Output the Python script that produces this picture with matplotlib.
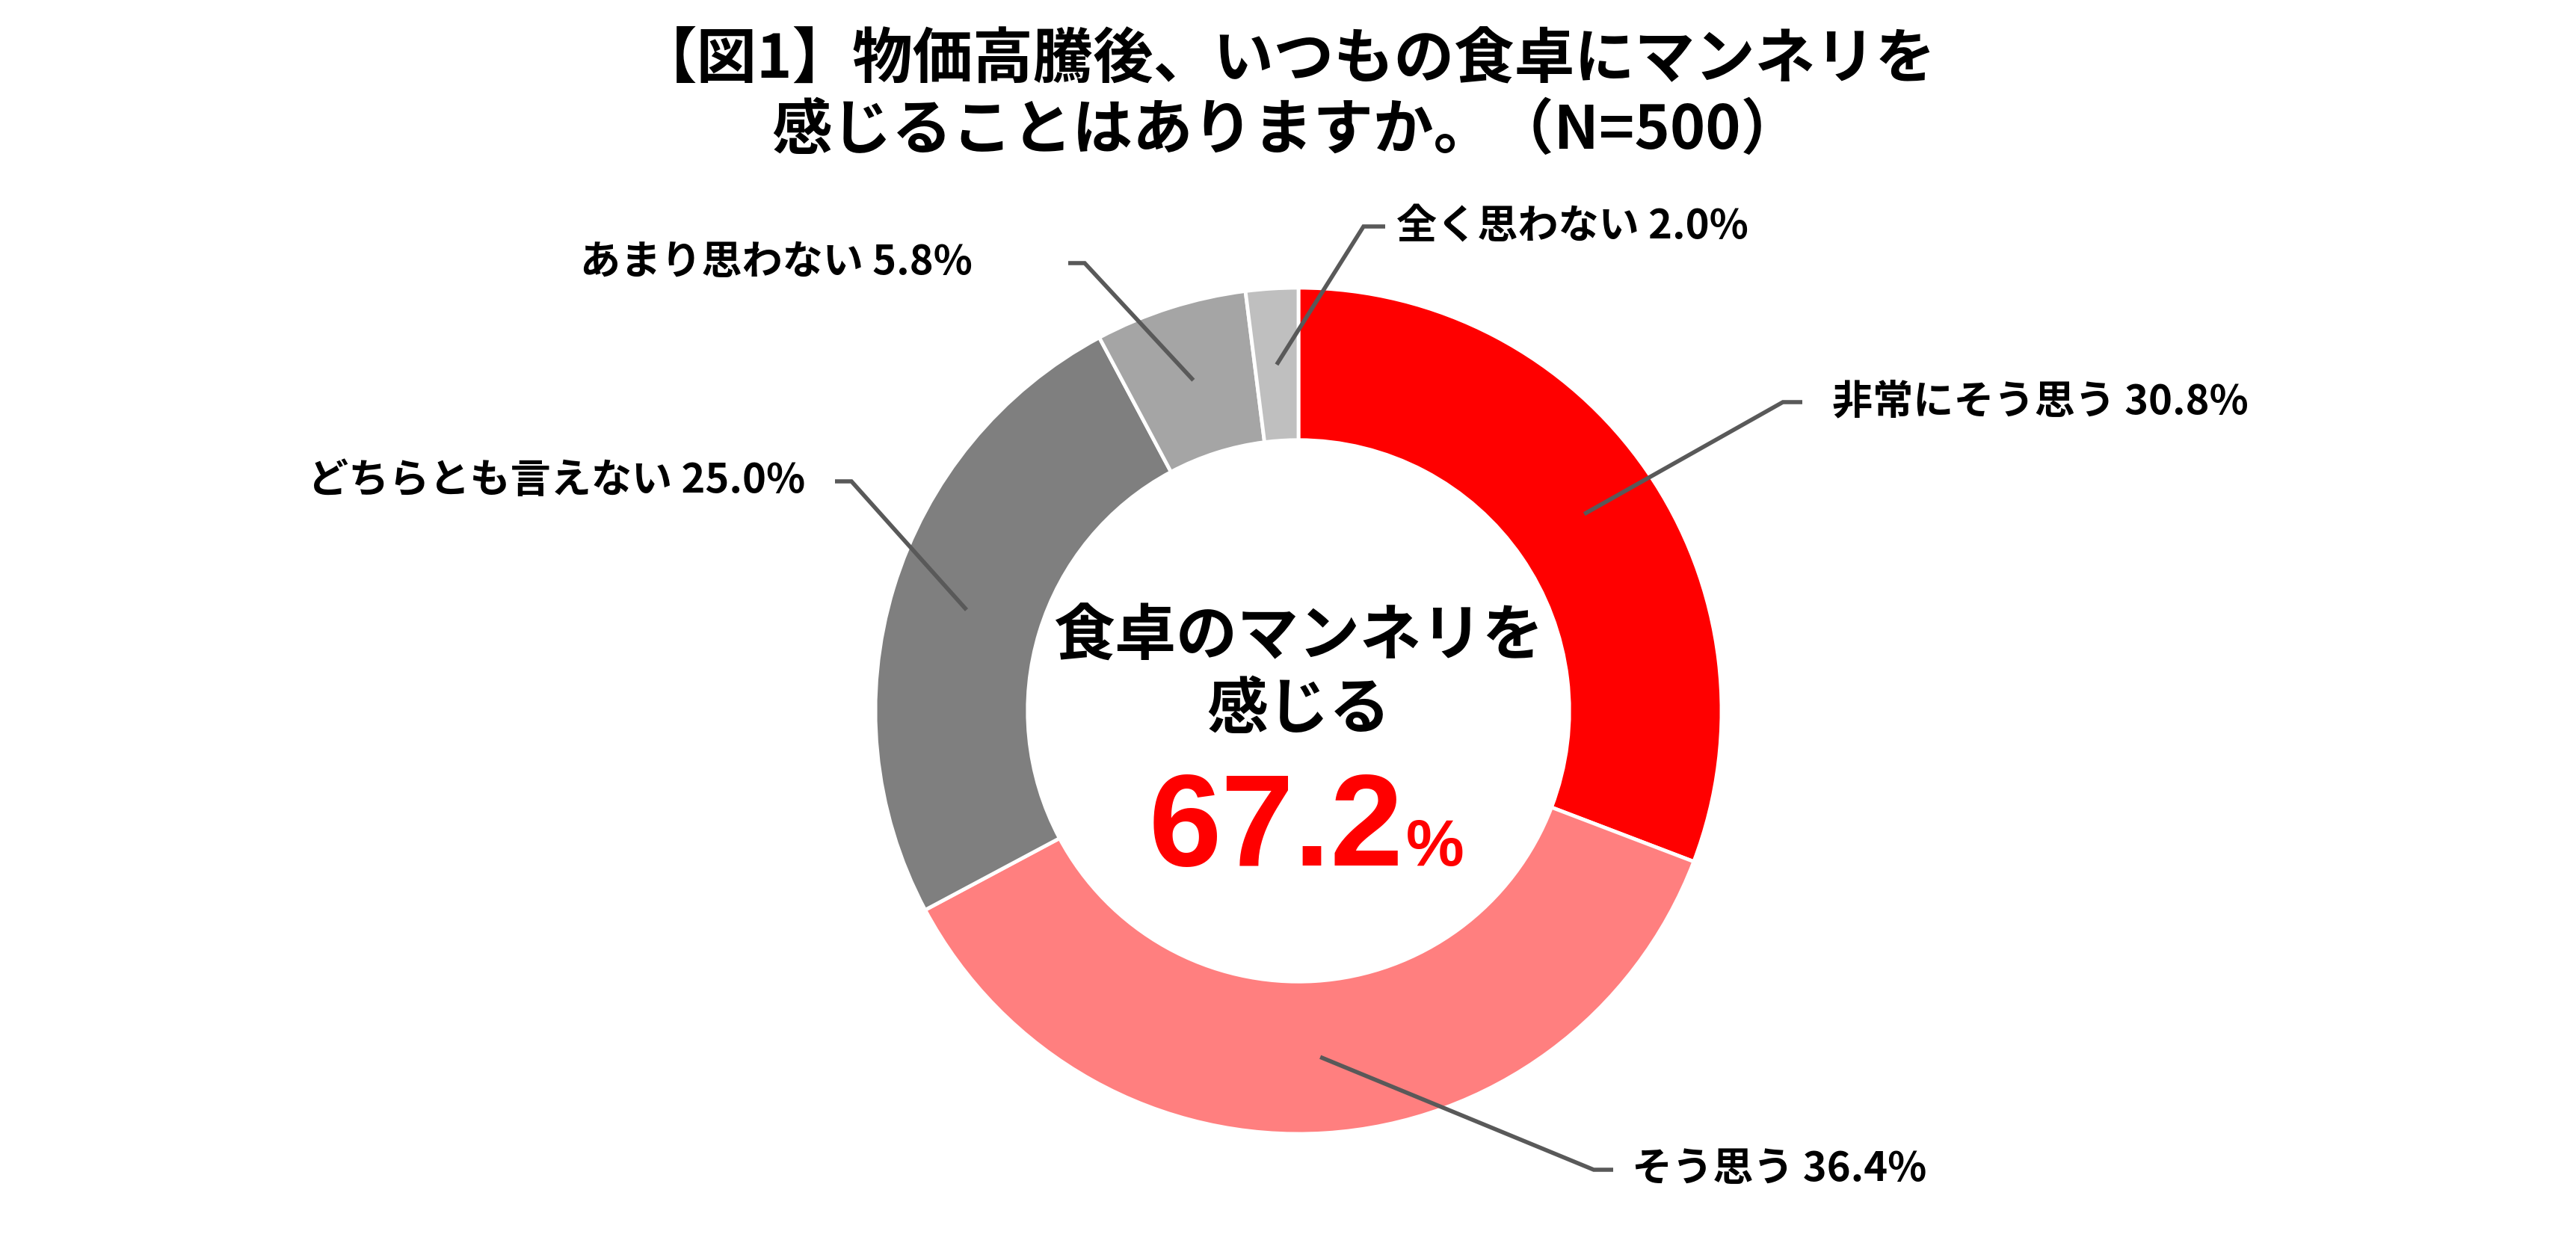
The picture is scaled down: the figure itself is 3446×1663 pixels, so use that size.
"""Donut chart: 食卓のマンネリを感じるか (N=500)."""

import matplotlib.pyplot as plt
import numpy as np

plt.rcParams["font.family"] = ["Noto Sans CJK JP", "DejaVu Sans"]

# data, clockwise from 12 o'clock
categories = ["非常にそう思う", "そう思う", "どちらとも言えない", "あまり思わない", "全く思わない"]
values = [30.8, 36.4, 25.0, 5.8, 2.0]
colors = ["#FF0000", "#FF7F7F", "#7F7F7F", "#A5A5A5", "#BFBFBF"]
total_agree = values[0] + values[1]

title = "【図1】物価高騰後、いつもの食卓にマンネリを\n感じることはありますか。（N=500）"

W, H = 3446, 1663
fig = plt.figure(figsize=(W / 100, H / 100), dpi=100)
ax = fig.add_axes([0, 0, 1, 1])

cx, cy = 1737, H - 951
R = 566
ring = 0.36

wedges, _ = ax.pie(
    values,
    colors=colors,
    startangle=90,
    counterclock=False,
    radius=R,
    center=(cx, cy),
    wedgeprops=dict(width=R * ring, edgecolor="white", linewidth=3.5),
    frame=True,
)
ax.set_xlim(0, W)
ax.set_ylim(0, H)
ax.set_aspect("equal")
ax.axis("off")

# label layout: elbow point, tick end, text x, alignment (pixel coords, y from top)
layout = [
    ((2385, 538), (2411, 538), 2451, "left"),
    ((2132, 1565), (2158, 1565), 2183, "left"),
    ((1139, 644), (1117, 644), 1077, "right"),
    ((1451, 352), (1429, 352), 1301, "right"),
    ((1824, 303), (1853, 303), 1868, "left"),
]

line_col = "#595959"
for w, name, v, (elbow, end, tx, ha) in zip(wedges, categories, values, layout):
    mid = np.deg2rad((w.theta1 + w.theta2) / 2)
    px = cx + 0.82 * R * np.cos(mid)
    py = cy + 0.82 * R * np.sin(mid)
    ex, ey = elbow[0], H - elbow[1]
    tx2, ty2 = end[0], H - end[1]
    ax.plot([px, ex, tx2], [py, ey, ty2], color=line_col, lw=4,
            solid_capstyle="butt", solid_joinstyle="miter", zorder=5)
    ax.text(tx, ey, f"{name} {v:.1f}%", ha=ha, va="center",
            fontsize=39, fontweight="bold", color="black")

# centre text
ax.text(cx, H - 853, "食卓のマンネリを", ha="center", va="center",
        fontsize=59, fontweight="bold")
ax.text(cx, H - 950, "感じる", ha="center", va="center",
        fontsize=59, fontweight="bold")
ax.text(cx + 140, H - 1158, f"{total_agree:.1f}", ha="right", va="baseline",
        fontsize=126, fontweight="bold", color="#FF0000",
        family=["Liberation Sans", "DejaVu Sans"])
ax.text(cx + 144, H - 1158, "%", ha="left", va="baseline",
        fontsize=63, fontweight="bold", color="#FF0000",
        family=["Liberation Sans", "DejaVu Sans"])

# title
fig.text(1721 / W, 1 - 128 / H, title, ha="center", va="center",
         fontsize=58, fontweight="bold", linespacing=1.22)

fig.savefig("out.png", dpi=100, facecolor="white")
